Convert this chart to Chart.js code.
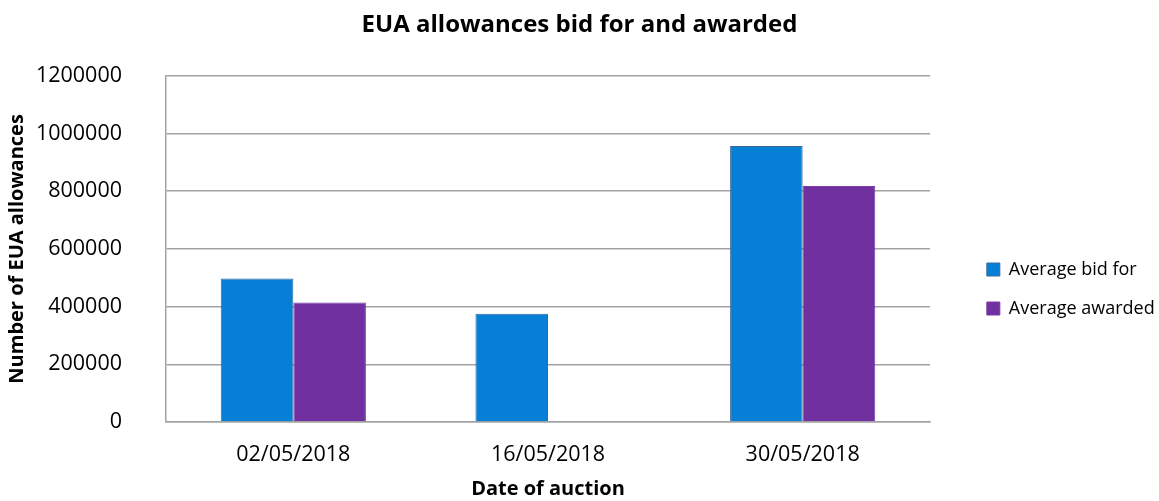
<!DOCTYPE html>
<html lang="en">
<head>
    <meta charset="UTF-8">
    <title>EUA allowances bid for and awarded</title>
    <script src="https://cdn.jsdelivr.net/npm/chart.js"></script>
    <style>
        html, body {
            margin: 0;
            padding: 0;
            background: #ffffff;
        }

        .wrap {
            width: 1159px;
            height: 501px;
            position: relative;
        }
    </style>
</head>
<body>
    <div class="wrap">
        <canvas id="euaChart"></canvas>
    </div>

    <script>
        // data
        const auctionDates = ["02/05/2018", "16/05/2018", "30/05/2018"];
        const avgBidFor = [497000, 375000, 957000];
        const avgAwarded = [414000, null, 818000];
        const yTicks = [0, 200000, 400000, 600000, 800000, 1000000, 1200000];

        const gridGrey = '#a3a3a3';
        const font = 'Open Sans';

        new Chart(document.getElementById('euaChart'), {
            type: 'bar',
            data: {
                labels: auctionDates,
                datasets: [
                    {
                        label: 'Average bid for',
                        data: avgBidFor,
                        backgroundColor: '#0580d6',
                        borderColor: '#3a6a9c',
                        borderWidth: 1
                    },
                    {
                        label: 'Average awarded',
                        data: avgAwarded,
                        backgroundColor: '#7030a0',
                        borderColor: '#7a3aaa',
                        borderWidth: 1
                    }
                ]
            },
            options: {
                responsive: true,
                maintainAspectRatio: false,
                animation: false,
                layout: {
                    padding: 0
                },
                datasets: {
                    bar: {
                        categoryPercentage: 0.57,
                        barPercentage: 1.0
                    }
                },
                scales: {
                    x: {
                        grid: { display: false, drawTicks: false },
                        border: { display: true, color: gridGrey, width: 1.5 },
                        ticks: {
                            color: '#000',
                            padding: 20,
                            font: { family: font, size: 21.5 }
                        },
                        title: {
                            display: true,
                            text: 'Date of auction',
                            color: '#000',
                            padding: { top: 0, bottom: 0 },
                            font: { family: font, size: 20, weight: 'bold' }
                        },
                        afterFit: function (axis) {
                            axis.height = 79;
                        }
                    },
                    y: {
                        min: 0,
                        max: 1200000,
                        afterBuildTicks: function (axis) {
                            axis.ticks = yTicks.map(v => ({ value: v }));
                        },
                        grid: {
                            color: gridGrey,
                            lineWidth: 1.5,
                            drawTicks: false
                        },
                        border: { display: true, color: gridGrey, width: 1.5 },
                        ticks: {
                            color: '#000',
                            padding: 44,
                            font: { family: font, size: 21.5 },
                            callback: function (value) {
                                return String(value);
                            }
                        },
                        title: {
                            display: true,
                            text: 'Number of EUA allowances',
                            color: '#000',
                            padding: { top: 5, bottom: 0 },
                            font: { family: font, size: 20, weight: 'bold' }
                        },
                        afterFit: function (axis) {
                            axis.width = 166;
                        }
                    },
                    // empty spacer between plot and legend
                    gap: {
                        type: 'linear',
                        position: 'right',
                        grid: { display: false, drawTicks: false },
                        border: { display: false },
                        ticks: { display: false },
                        afterFit: function (axis) {
                            const lg = axis.chart.legend;
                            const lw = lg && lg.width ? lg.width : 200;
                            axis.width = Math.max(0, axis.chart.width - lw - 930);
                        }
                    }
                },
                plugins: {
                    title: {
                        display: true,
                        text: 'EUA allowances bid for and awarded',
                        color: '#000',
                        padding: { top: 11, bottom: 36 },
                        font: { family: font, size: 24, weight: 'bold' }
                    },
                    legend: {
                        position: 'right',
                        title: {
                            display: true,
                            text: '',
                            padding: { top: 65, bottom: 0 },
                            font: { size: 10 }
                        },
                        labels: {
                            color: '#000',
                            boxWidth: 13,
                            boxHeight: 13,
                            padding: 21,
                            font: { family: font, size: 18 }
                        }
                    },
                    tooltip: { enabled: false }
                }
            }
        });
    </script>
</body>
</html>
